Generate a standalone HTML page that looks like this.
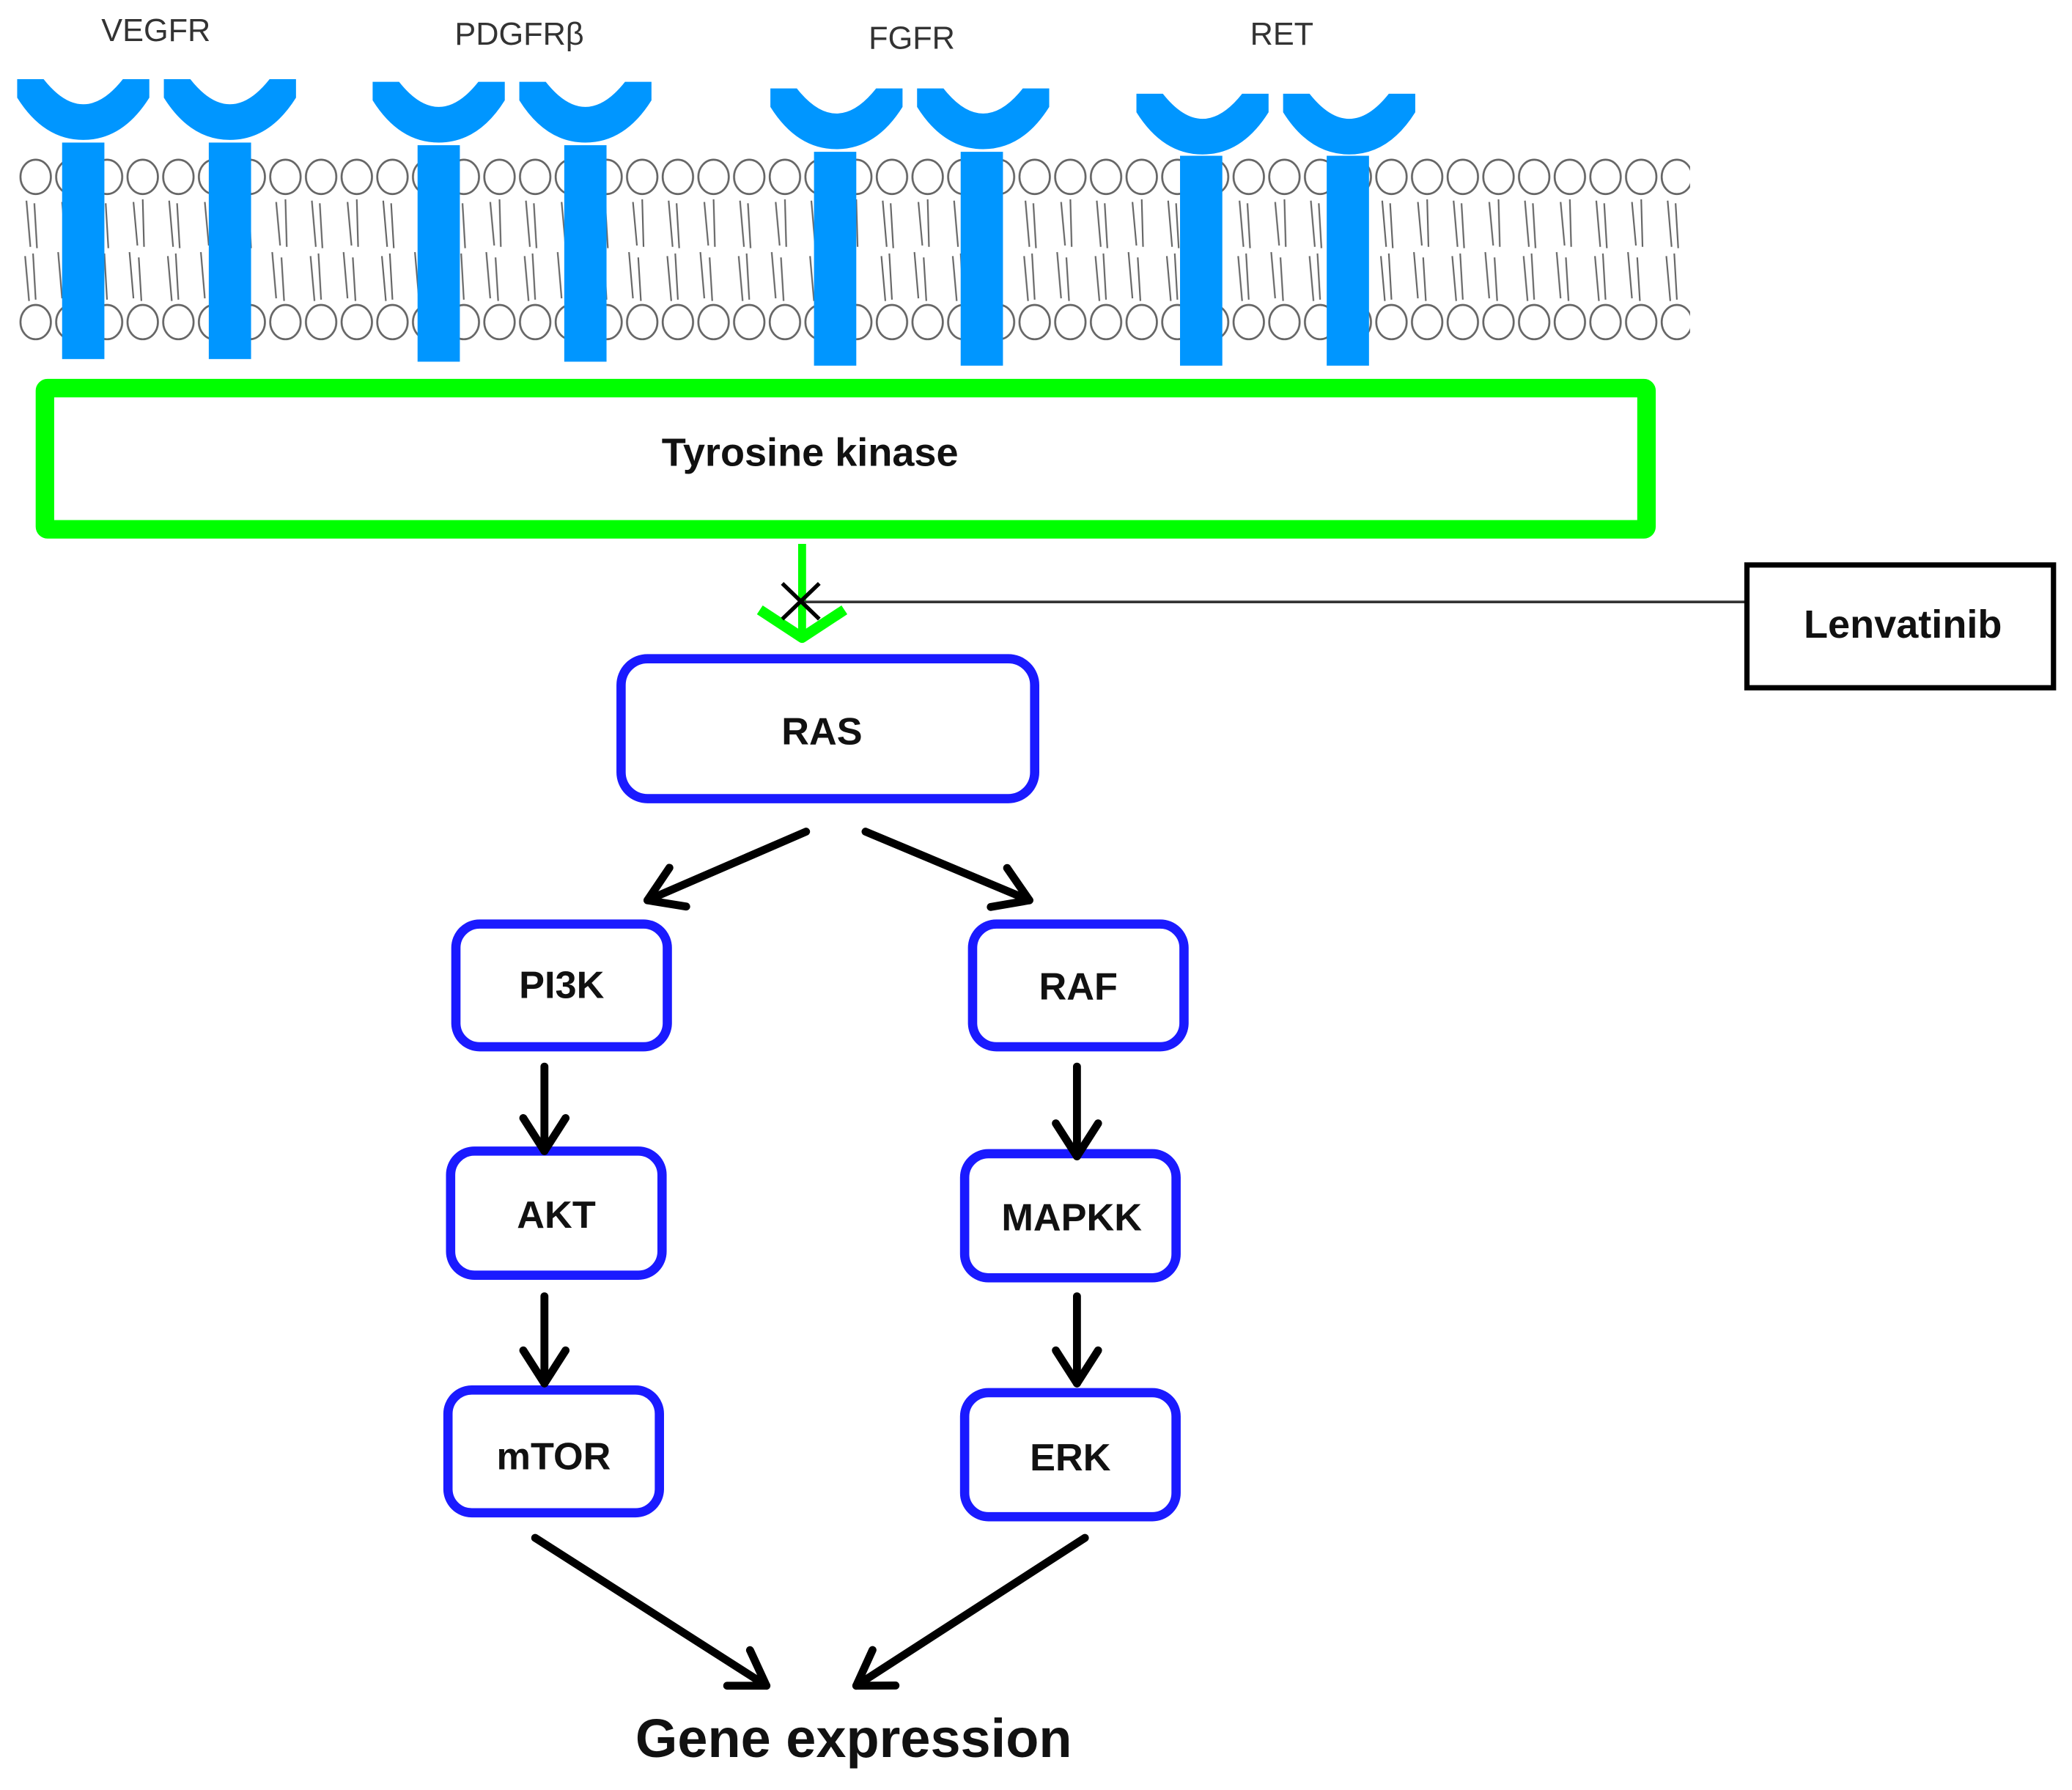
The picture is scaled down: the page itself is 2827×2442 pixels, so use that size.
<!DOCTYPE html>
<html><head><meta charset="utf-8"><style>html,body{margin:0;padding:0;background:#fff}svg{display:block}</style></head>
<body>
<svg width="2827" height="2442" viewBox="0 0 1568 1356" preserveAspectRatio="none" xmlns="http://www.w3.org/2000/svg">
<defs>
<pattern id="heads" x="14" y="0" width="27" height="1356" patternUnits="userSpaceOnUse">
<ellipse cx="13" cy="134" rx="11.5" ry="13" fill="none" stroke="#666" stroke-width="1.5"/>
<ellipse cx="13" cy="244" rx="11.5" ry="13" fill="none" stroke="#666" stroke-width="1.5"/>
</pattern>
<pattern id="tails" x="14" y="0" width="54" height="1356" patternUnits="userSpaceOnUse">
<g stroke="#666" stroke-width="1.2" fill="none">
<path d="M6,152 L9,187 M12,154 L14,188 M33,153 L36,186 M40,151 L41,187"/>
<path d="M5,194 L8,228 M11,192 L13,227 M30,191 L33,226 M37,195 L39,228"/>
</g>
</pattern>
<path id="cup" d="M-50,0 L-30,0 Q0,38 30,0 L50,0 L50,14 Q30,46 0,46 Q-30,46 -50,14 Z" fill="#0096ff"/>
<marker id="ah" markerWidth="44" markerHeight="44" refX="36" refY="22" orient="auto" markerUnits="userSpaceOnUse">
<path d="M11,6 L36,22 L11,38" fill="none" stroke="#000" stroke-width="6" stroke-linecap="round" stroke-linejoin="round"/>
</marker>
</defs>
<rect width="1568" height="1356" fill="#fff"/>
<g font-family="Liberation Sans, sans-serif" font-size="24" fill="#333" text-anchor="middle">
<text x="118" y="31">VEGFR</text>
<text x="393" y="34">PDGFRβ</text>
<text x="690" y="37">FGFR</text>
<text x="970" y="34">RET</text>
</g>
<rect x="14" y="118" width="1265" height="145" fill="url(#heads)"/>
<rect x="14" y="148" width="1265" height="82" fill="url(#tails)"/>
<g fill="#0096ff">
<rect x="47" y="108" width="32" height="164"/><rect x="158" y="108" width="32" height="164"/>
<rect x="316" y="110" width="32" height="164"/><rect x="427" y="110" width="32" height="164"/>
<rect x="616" y="115" width="32" height="162"/><rect x="727" y="115" width="32" height="162"/>
<rect x="893" y="118" width="32" height="159"/><rect x="1004" y="118" width="32" height="159"/>
</g>
<use href="#cup" x="63" y="60"/><use href="#cup" x="174" y="60"/>
<use href="#cup" x="332" y="62"/><use href="#cup" x="443" y="62"/>
<use href="#cup" x="633" y="67"/><use href="#cup" x="744" y="67"/>
<use href="#cup" x="910" y="71"/><use href="#cup" x="1021" y="71"/>
<rect x="34" y="294" width="1212" height="107" fill="none" stroke="#00ff00" stroke-width="14" rx="2"/>
<text x="613" y="353" font-family="Liberation Sans, sans-serif" font-weight="bold" font-size="30" text-anchor="middle" fill="#111">Tyrosine kinase</text>
<line x1="607" y1="412" x2="607" y2="480" stroke="#00ff00" stroke-width="6"/>
<path d="M575,462 L607,483 L639,462" fill="none" stroke="#00ff00" stroke-width="8" stroke-linejoin="round"/>
<line x1="606" y1="456" x2="1321" y2="456" stroke="#333" stroke-width="2"/>
<path d="M592,442 L620,469 M620,442 L592,469" stroke="#000" stroke-width="3"/>
<rect x="1322" y="428" width="232" height="93" fill="none" stroke="#000" stroke-width="4"/>
<text x="1440" y="483" font-family="Liberation Sans, sans-serif" font-weight="bold" font-size="30" text-anchor="middle" fill="#111">Lenvatinib</text>
<g fill="none" stroke="#1a1aff" stroke-width="7">
<rect x="470" y="499" width="313" height="106" rx="20"/>
<rect x="345" y="700" width="160" height="93" rx="18"/>
<rect x="736" y="700" width="160" height="93" rx="18"/>
<rect x="341" y="872" width="160" height="94" rx="18"/>
<rect x="730" y="874" width="160" height="94" rx="18"/>
<rect x="339" y="1053" width="160" height="93" rx="18"/>
<rect x="730" y="1055" width="160" height="94" rx="18"/>
</g>
<g font-family="Liberation Sans, sans-serif" font-weight="bold" font-size="29" text-anchor="middle" fill="#111">
<text x="622" y="564">RAS</text>
<text x="425" y="756">PI3K</text>
<text x="816" y="757">RAF</text>
<text x="421" y="930">AKT</text>
<text x="811" y="932">MAPKK</text>
<text x="419" y="1113">mTOR</text>
<text x="810" y="1114">ERK</text>
<text x="646" y="1331" font-size="41">Gene expression</text>
</g>
<g stroke="#000" stroke-width="6" fill="none" stroke-linecap="round" marker-end="url(#ah)">
<line x1="610" y1="630" x2="490" y2="682"/>
<line x1="655" y1="630" x2="779" y2="682"/>
<line x1="412" y1="808" x2="412" y2="872"/>
<line x1="412" y1="982" x2="412" y2="1048"/>
<line x1="815" y1="808" x2="815" y2="876"/>
<line x1="815" y1="982" x2="815" y2="1048"/>
<line x1="405" y1="1165" x2="580" y2="1277"/>
<line x1="821" y1="1165" x2="648" y2="1277"/>
</g>
</svg>
</body></html>
